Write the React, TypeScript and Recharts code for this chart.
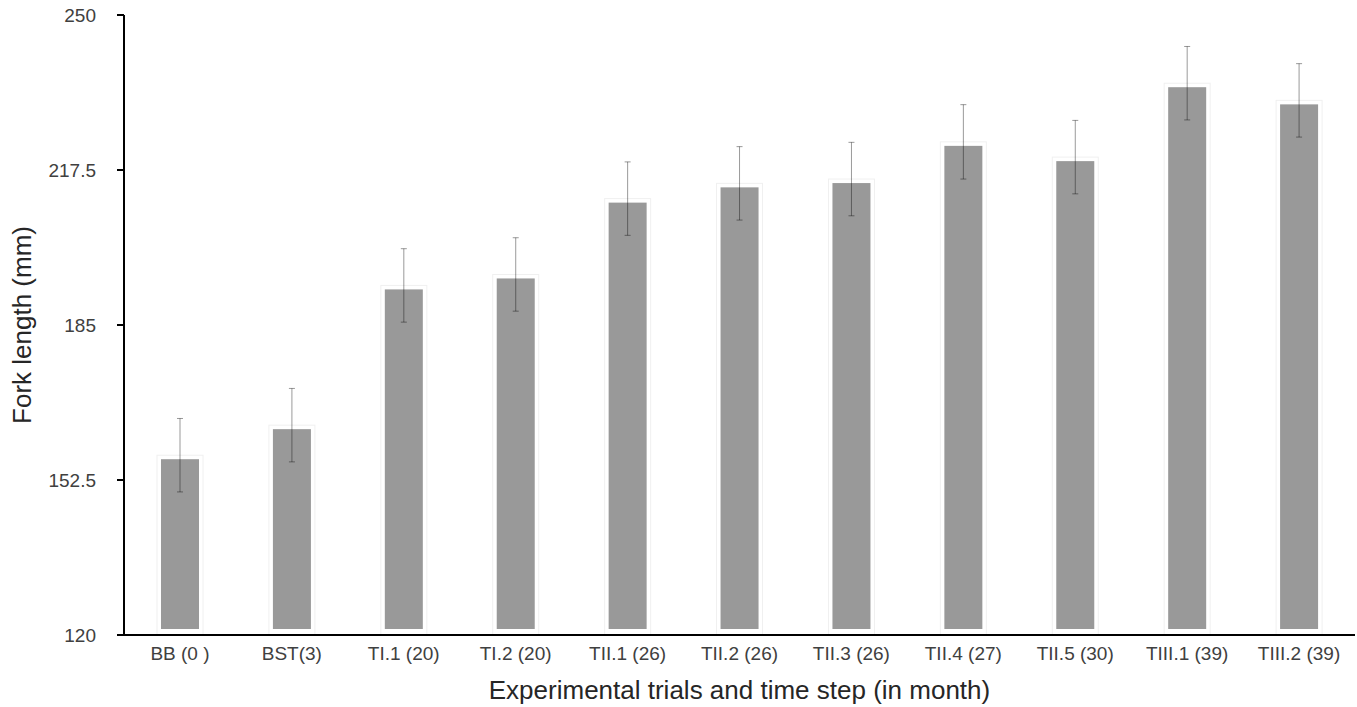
import { BarChart, Bar, XAxis, YAxis, ErrorBar } from "recharts";

const trials = [
    "BB (0 )", "BST(3)", "TI.1 (20)", "TI.2 (20)", "TII.1 (26)", "TII.2 (26)",
    "TII.3 (26)", "TII.4 (27)", "TII.5 (30)", "TIII.1 (39)", "TIII.2 (39)",
];
const forkLength = [157.7, 164.0, 193.3, 195.6, 211.5, 214.7, 215.6, 223.4, 220.2, 235.7, 232.1];
const stdDev = [7.7, 7.7, 7.7, 7.7, 7.7, 7.7, 7.7, 7.8, 7.7, 7.7, 7.7];
const yTicks = [120, 152.5, 185, 217.5, 250];

const data = trials.map((name, i) => ({ name, value: forkLength[i], err: stdDev[i] }));

const font = '"Liberation Sans", Arial, sans-serif';

// grey bar with a faint outline, like the exported figure
// eslint-disable-next-line @typescript-eslint/no-explicit-any
const BarShape = (props: any) => {
    const { x, y, width, height } = props;
    return (
        <g>
            <rect x={x} y={y} width={width} height={height} fill="none" stroke="#f0f0f0" strokeWidth={1} />
            <rect x={x + 4} y={y + 4} width={width - 8} height={Math.max(height - 10, 0)} fill="#999999" />
        </g>
    );
};

export default function App() {
    return (
        <div style={{ position: "absolute", left: 0, top: 0, fontFamily: font }}>
            <BarChart width={1357} height={707} data={data}
                      margin={{ top: 15, right: 2, bottom: 0, left: 0 }}>
                <XAxis dataKey="name"
                       height={72}
                       axisLine={{ stroke: "#000", strokeWidth: 2 }}
                       tickLine={false}
                       tickSize={0}
                       tickMargin={12}
                       interval={0}
                       tick={{ fill: "#404040", fontSize: 19, fontFamily: font }}
                       label={{ value: "Experimental trials and time step (in month)", position: "insideBottom", offset: 8,
                                fill: "#262626", fontSize: 26, fontFamily: font }} />
                <YAxis domain={[120, 250]}
                       ticks={yTicks}
                       width={124}
                       axisLine={{ stroke: "#000", strokeWidth: 2 }}
                       tickLine={{ stroke: "#000", strokeWidth: 2 }}
                       tickSize={7}
                       tickMargin={21}
                       tick={{ fill: "#404040", fontSize: 19, fontFamily: font }}
                       label={{ value: "Fork length (mm)", angle: -90, position: "insideLeft", offset: 22,
                                fill: "#262626", fontSize: 26, fontFamily: font, style: { textAnchor: "middle" } }} />
                <Bar dataKey="value" barSize={46} shape={<BarShape />} isAnimationActive={false}>
                    <ErrorBar dataKey="err" width={3} stroke="#000" strokeOpacity={0.4} strokeWidth={1} isAnimationActive={false} />
                </Bar>
            </BarChart>
        </div>
    );
}
